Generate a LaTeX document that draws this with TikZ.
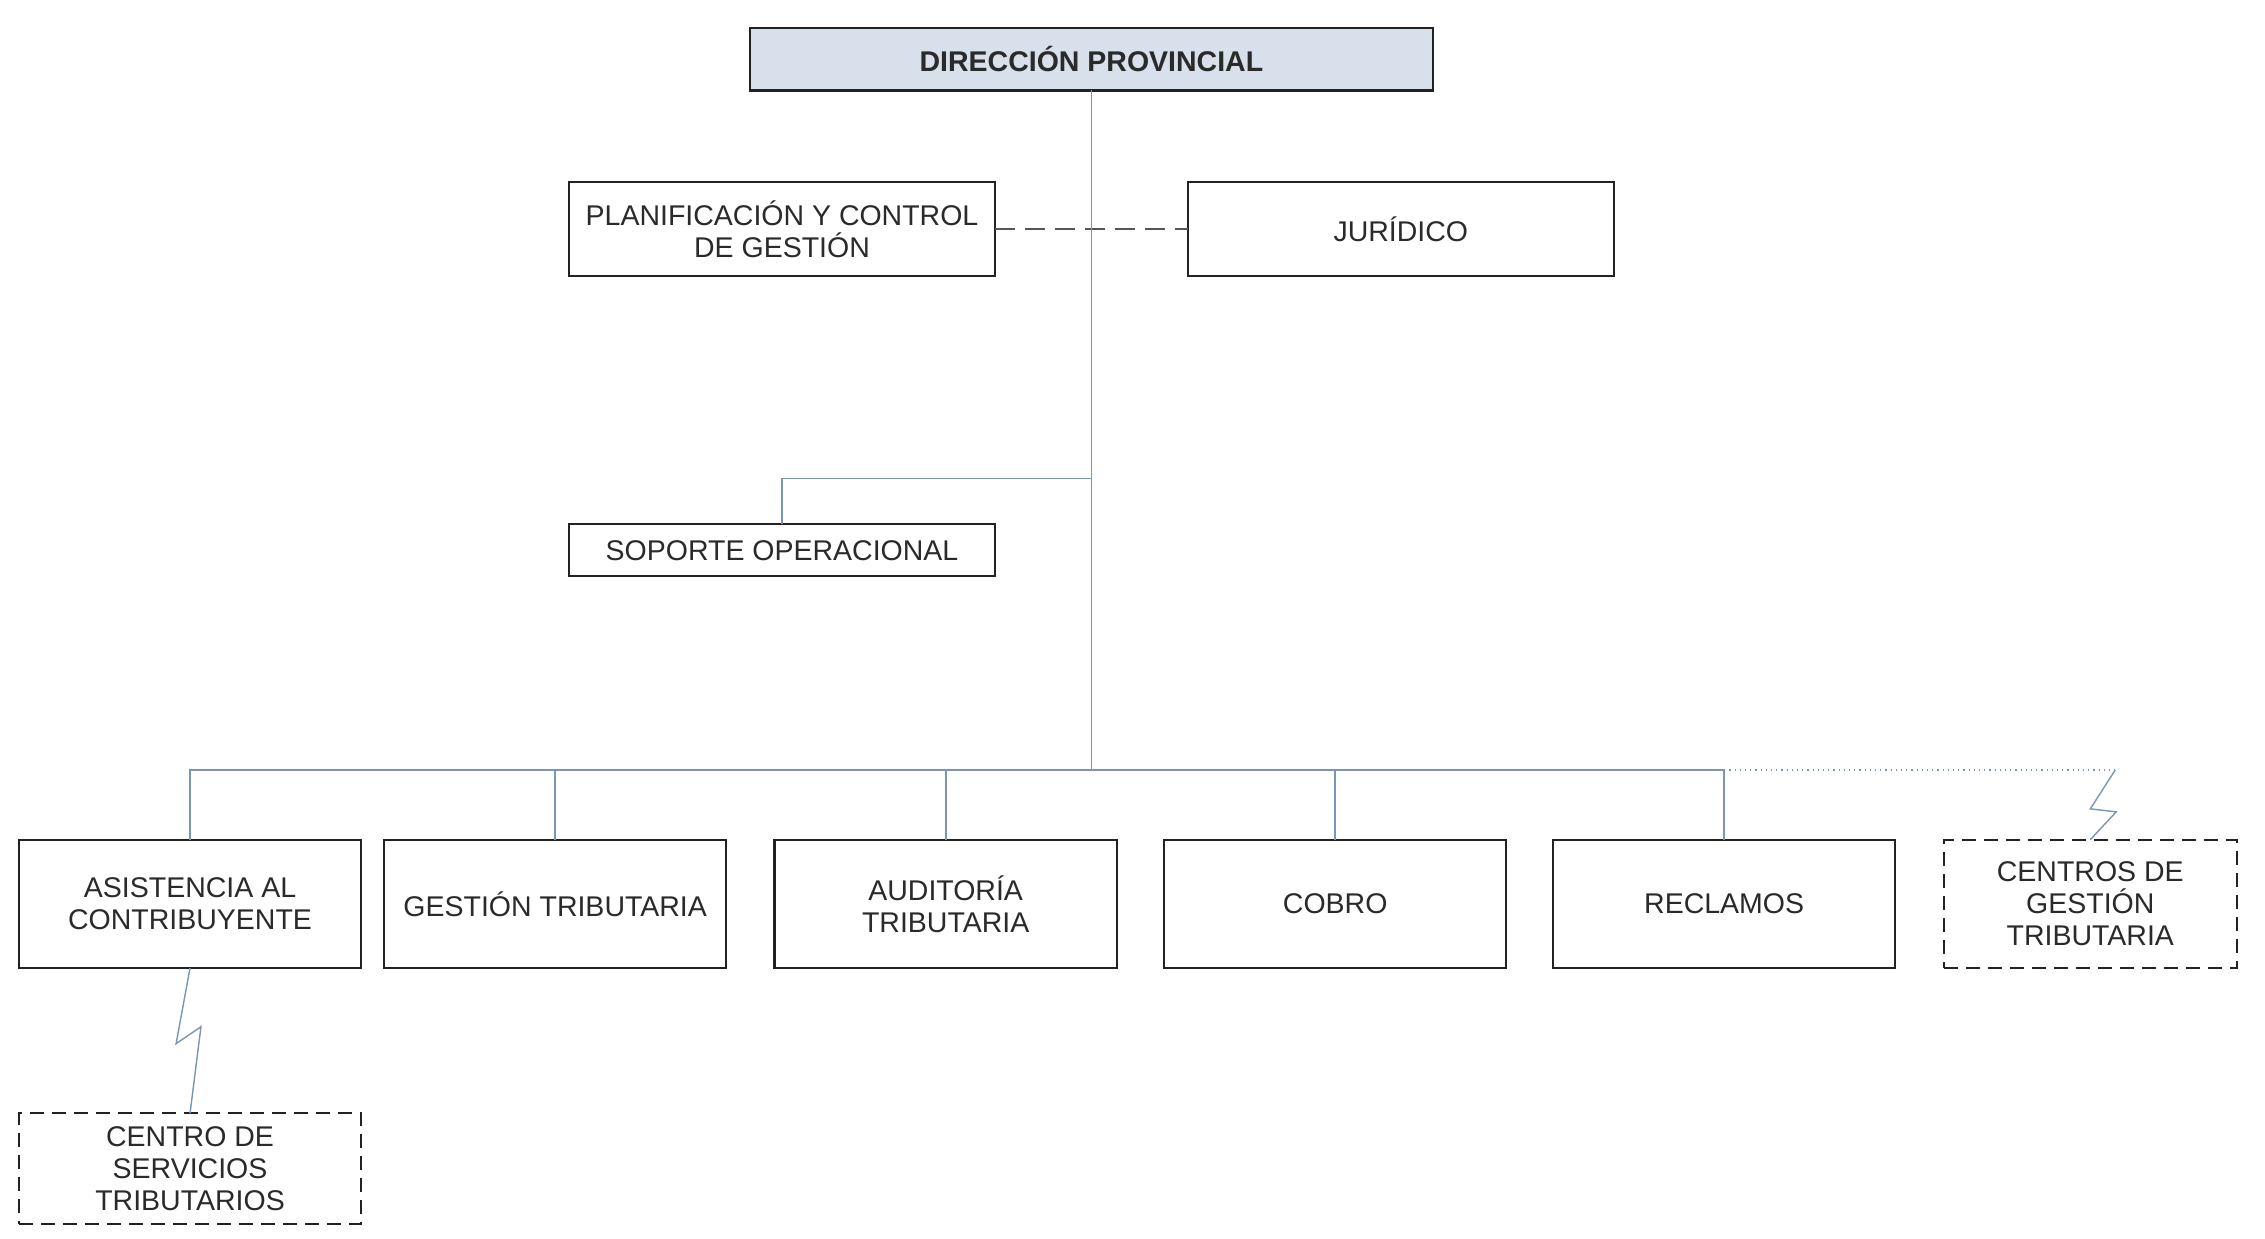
\documentclass[tikz,border=0pt]{standalone}
\usepackage{fontspec}
\setmainfont{Liberation Sans}
\usetikzlibrary{calc}
\definecolor{linkblue}{HTML}{7A96B4}
\definecolor{dirfill}{HTML}{D8E0EB}
\definecolor{boxline}{HTML}{222222}
\definecolor{txt}{HTML}{2A2A2A}
\definecolor{dashgray}{HTML}{555555}
\begin{document}
\begin{tikzpicture}[x=0.4975pt,y=-0.4975pt,
 box/.style={draw=boxline,line width=1.1pt,inner sep=0pt,outer sep=0pt,align=center,font=\fontsize{14.25}{16}\selectfont,text=txt},
 dbox/.style={box,dash pattern=on 7pt off 4pt},
 bot/.style={box,minimum width=171.1pt,minimum height=64.2pt},
 link/.style={draw=linkblue,line width=0.9pt},
]
\useasboundingbox (0,0) rectangle (2276.6,1245.2);
\fill[white] (0,0) rectangle (2276.6,1245.2);

\node[box,fill=dirfill,minimum width=341.3pt,minimum height=31.3pt,font=\bfseries\fontsize{14.25}{16}\selectfont] (dir) at (1097,59.5) {DIRECCIÓN PROVINCIAL};
\node[box,minimum width=212.9pt,minimum height=46.8pt] (pcg) at (786,230) {PLANIFICACIÓN Y CONTROL\\DE GESTIÓN};
\node[box,minimum width=212.9pt,minimum height=46.8pt] (jur) at (1408,230) {JURÍDICO};
\node[box,minimum width=212.9pt,minimum height=25.9pt] (sop) at (786,553) {SOPORTE OPERACIONAL};

\node[bot] (asi) at (191,908.5) {ASISTENCIA AL\\CONTRIBUYENTE};
\node[bot] (gt) at (558,908.5) {GESTIÓN TRIBUTARIA};
\node[bot] (aud) at (950.5,908.5) {AUDITORÍA\\TRIBUTARIA};
\node[bot] (cob) at (1342,908.5) {COBRO};
\node[bot] (rec) at (1733,908.5) {RECLAMOS};
\node[dbox,minimum width=146.3pt,minimum height=64.2pt] (cgt) at (2101,908.5) {CENTROS DE\\GESTIÓN\\TRIBUTARIA};
\node[dbox,minimum width=171.1pt,minimum height=55.2pt] (cst) at (191,1174.5) {CENTRO DE\\SERVICIOS\\TRIBUTARIOS};

\coordinate (busc) at (1097,774);
\coordinate (sopj) at (1097,481);
\coordinate (dend) at (2126,774);
\coordinate (za) at (2101,813);
\coordinate (zb) at (2127,816);
\coordinate (ya) at (177,1049);
\coordinate (yb) at (202,1032);

\draw[dashgray,line width=0.9pt,dash pattern=on 10pt off 5pt] (pcg.east) -- (jur.west);
\draw[link] (dir.south) -- (busc);
\draw[link] (sopj) -| (sop.north);
\draw[link] (asi.north) |- (rec.north |- busc) -- (rec.north);
\foreach \n in {gt,aud,cob} \draw[link] (\n.north) -- (\n.north |- busc);
\draw[linkblue,line width=0.6pt,dotted] (rec.north |- busc) -- (dend);
\draw[link,line width=0.7pt] (dend) -- (za) -- (zb) -- (cgt.north);
\draw[link,line width=0.7pt] (asi.south) -- (ya) -- (yb) -- (cst.north);
\end{tikzpicture}
\end{document}
